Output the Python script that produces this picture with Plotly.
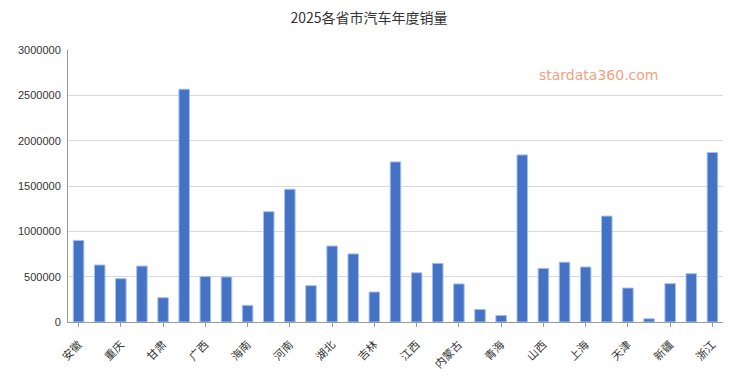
import plotly.graph_objects as go

provinces = ["安徽", "北京", "重庆", "福建", "甘肃", "广东", "广西", "贵州", "海南", "河北",
             "河南", "黑龙江", "湖北", "湖南", "吉林", "江苏", "江西", "辽宁", "内蒙古", "宁夏",
             "青海", "山东", "山西", "陕西", "上海", "四川", "天津", "西藏", "新疆", "云南", "浙江"]
sales = [900000, 629000, 478000, 617000, 268000, 2568000, 503000, 497000, 184000, 1217000,
         1464000, 401000, 838000, 751000, 331000, 1766000, 543000, 647000, 420000, 139000,
         73000, 1843000, 592000, 660000, 607000, 1168000, 375000, 36000, 423000, 533000, 1869000]
y_ticks = [0, 500000, 1000000, 1500000, 2000000, 2500000, 3000000]
title_text = "2025各省市汽车年度销量"
watermark = "stardata360.com"

font_family = "Noto Sans CJK SC, Noto Sans, sans-serif"

fig = go.Figure(go.Bar(
    x=provinces, y=sales, width=0.5,
    marker=dict(color="#4472C4", line=dict(color="#A9C2EC", width=1)),
))

fig.update_layout(
    width=730, height=383,
    margin=dict(l=60, r=15, t=42, b=69, autoexpand=False),
    paper_bgcolor="white", plot_bgcolor="white",
    title=dict(text=title_text, x=0.4945, xanchor="center", y=0.973, yanchor="middle",
               font=dict(family=font_family, size=14, color="#333333")),
    font=dict(family=font_family, size=11, color="#333333"),
    showlegend=False,
)
fig.update_xaxes(
    type="category", tickvals=provinces[::2], ticktext=provinces[::2],
    tickangle=-45, ticks="outside", ticklen=4, tickcolor="#999999",
    showline=True, linecolor="#999999", linewidth=1, showgrid=False,
    tickfont=dict(size=11, color="#333333"), automargin=False,
    ticklabelstandoff=7,
    range=[-0.5, len(provinces) - 0.5],
)
fig.update_yaxes(
    range=[0, 3000000], tickvals=y_ticks, ticktext=[str(v) for v in y_ticks],
    showline=True, linecolor="#999999", linewidth=1,
    showgrid=True, gridcolor="#D9D9D9", gridwidth=1, automargin=False,
    ticks="", tickfont=dict(family="Liberation Sans, Arial, sans-serif", size=11, color="#333333"),
    ticklabelstandoff=4, zeroline=False,
)
fig.add_annotation(
    text=watermark, xref="paper", yref="paper", x=0.81, y=0.908,
    xanchor="center", yanchor="middle",
    showarrow=False, font=dict(family="DejaVu Sans, sans-serif", size=14, color="#F4A07E"),
)
fig.write_html("out.html")
